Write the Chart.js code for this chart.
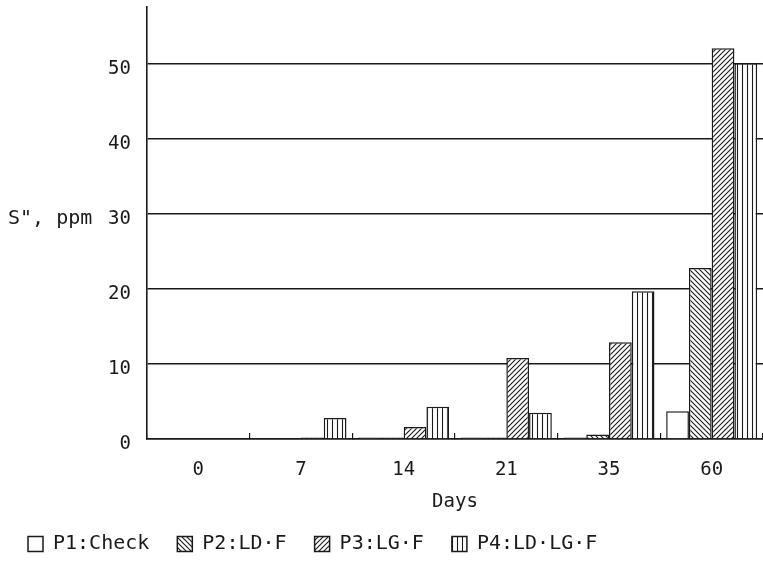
<!DOCTYPE html>
<html>
<head>
<meta charset="utf-8">
<script src="https://cdn.jsdelivr.net/npm/chart.js@4/dist/chart.umd.min.js"></script>
<style>
  body { margin: 0; background: #fff; }
  #wrap { width: 763px; height: 564px; }
</style>
</head>
<body>
<div id="wrap"><canvas id="chart1"></canvas></div>
<script>
// data
var days = ["0", "7", "14", "21", "35", "60"];
var p1Check = [0.1, 0.1, 0.2, 0.2, 0.2, 3.7];
var p2LDF = [0.1, 0.1, 0.2, 0.2, 0.6, 22.8];
var p3LGF = [0.1, 0.2, 1.6, 10.8, 12.9, 52.1];
var p4LDLGF = [0.1, 2.8, 4.3, 3.5, 19.7, 50.1];
var yTicks = [0, 10, 20, 30, 40, 50];

var ink = '#1a1a1a';
var mono = "'DejaVu Sans Mono', 'Liberation Mono', monospace";

// hatch fills like the plotter ones
function hatch(kind) {
	var s = 5;
	var c = document.createElement('canvas');
	c.width = s; c.height = s;
	var g = c.getContext('2d');
	g.fillStyle = '#fff';
	g.fillRect(0, 0, s, s);
	if (kind) {
		g.strokeStyle = ink;
		g.lineWidth = 1.1;
		g.beginPath();
		if (kind == '/') {
			g.moveTo(-1, s + 1); g.lineTo(s + 1, -1);
			g.moveTo(-1, 1); g.lineTo(1, -1);
			g.moveTo(s - 1, s + 1); g.lineTo(s + 1, s - 1);
		} else if (kind == '\\') {
			g.moveTo(-1, -1); g.lineTo(s + 1, s + 1);
			g.moveTo(s - 1, -1); g.lineTo(s + 1, 1);
			g.moveTo(-1, s - 1); g.lineTo(1, s + 1);
		} else {
			g.moveTo(2.5, 0); g.lineTo(2.5, s);
		}
		g.stroke();
	}
	return g.createPattern(c, 'repeat');
}

// y title sits on the 30 line, not rotated
var sideTitle = {
	id: 'sideTitle',
	afterDraw: function(chart) {
		var y = chart.scales.y;
		var ctx = chart.ctx;
		ctx.save();
		ctx.font = '20px ' + mono;
		ctx.fillStyle = ink;
		ctx.textAlign = 'left';
		ctx.textBaseline = 'middle';
		ctx.fillText('S", ppm', 8, y.getPixelForValue(30) + 5);
		ctx.restore();
	}
};

var ctx = document.getElementById('chart1').getContext('2d');
var myBarChart = new Chart(ctx, {
	type: 'bar',
	data: {
		labels: days,
		datasets: [
			{ label: "P1:Check", data: p1Check, backgroundColor: hatch(''), borderColor: ink, borderWidth: 1.5 },
			{ label: "P2:LD·F", data: p2LDF, backgroundColor: hatch('\\'), borderColor: ink, borderWidth: 1.5 },
			{ label: "P3:LG·F", data: p3LGF, backgroundColor: hatch('/'), borderColor: ink, borderWidth: 1.5 },
			{ label: "P4:LD·LG·F", data: p4LDLGF, backgroundColor: hatch('|'), borderColor: ink, borderWidth: 1.5 }
		]
	},
	options: {
		responsive: true,
		maintainAspectRatio: false,
		animation: false,
		devicePixelRatio: 1,
		layout: { padding: { top: 7, right: 0, left: 0, bottom: 0 } },
		datasets: { bar: { categoryPercentage: 0.886, barPercentage: 1.0 } },
		scales: {
			x: {
				afterFit: function(s) { s.height = 67; s.paddingLeft = 0; s.paddingRight = 0; },
				grid: { offset: true, drawOnChartArea: false, drawTicks: true, tickLength: -6, color: ink, lineWidth: 1.2 },
				border: { color: ink, width: 1.6 },
				ticks: { color: ink, padding: 26, font: { family: mono, size: 19 } },
				title: { display: true, text: 'Days', color: ink, font: { family: mono, size: 19 }, padding: { top: 8.8, bottom: -7.4 } }
			},
			y: {
				min: 0,
				max: 57.6,
				afterBuildTicks: function(s) {
					s.ticks = yTicks.map(function(v) { return { value: v }; });
				},
				afterFit: function(s) { s.width = 147; s.paddingTop = 0; s.paddingBottom = 0; },
				grid: { color: ink, lineWidth: 1.5, drawTicks: false },
				border: { color: ink, width: 1.6 },
				ticks: { color: ink, padding: 16, labelOffset: 5, font: { family: mono, size: 19 } }
			}
		},
		plugins: {
			legend: {
				position: 'bottom',
				align: 'start',
				labels: { color: ink, boxWidth: 15, boxHeight: 15, padding: 28, font: { family: mono, size: 20 } }
			},
			tooltip: { enabled: false }
		}
	},
	plugins: [sideTitle]
});
</script>
</body>
</html>
